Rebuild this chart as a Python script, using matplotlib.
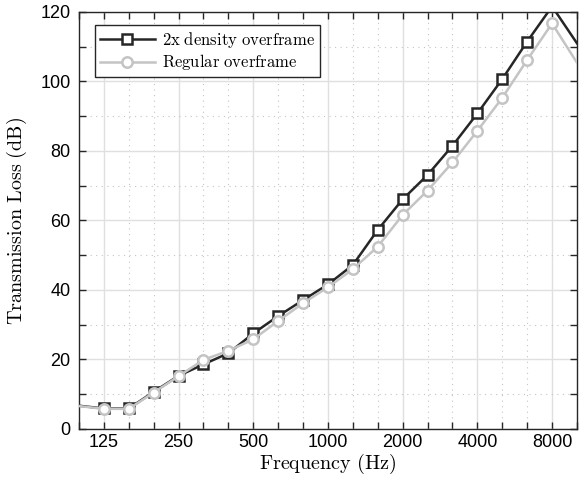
import numpy as np
import matplotlib.pyplot as plt
from matplotlib.ticker import FixedLocator, NullFormatter

# third-octave band centres (exact), 100 Hz .. 10 kHz
band_index = np.arange(-10, 11)
freqs = 1000.0 * 2.0 ** (band_index / 3.0)

tl_double = [6.7, 5.9, 5.9, 10.7, 15.3, 18.6, 21.8, 27.5, 32.5, 37.1, 41.6,
             47.2, 57.3, 66.1, 73.1, 81.5, 90.8, 100.7, 111.5, 121.6, 111.0]
tl_regular = [6.6, 5.8, 5.8, 10.5, 15.2, 19.9, 22.5, 25.8, 31.1, 36.2, 40.8,
              46.0, 52.5, 61.6, 68.6, 76.7, 85.8, 95.3, 106.2, 116.7, 105.4]

octave_labels = ['125', '250', '500', '1000', '2000', '4000', '8000']
octave_freqs = 1000.0 * 2.0 ** np.arange(-3, 4)
third_freqs = [f for f in freqs if not np.any(np.isclose(f, octave_freqs))]

plt.rcParams['mathtext.fontset'] = 'cm'

fig = plt.figure(figsize=(5.79, 4.87), dpi=100)
ax = fig.add_axes([0.1364, 0.1191, 0.8601, 0.8563])

# markers only inside the plot window (edge bands and clipped peak have none)
ax.plot(freqs, tl_double, color='#262626', lw=1.8, marker='s', ms=7,
        mfc='white', mec='#262626', mew=1.8, markevery=list(range(1, 19)),
        label=r'$\mathrm{2x\ density\ overframe}$', zorder=3)
ax.plot(freqs, tl_regular, color='#c4c4c4', lw=1.8, marker='o', ms=7.5,
        mfc='white', mec='#c4c4c4', mew=1.8, markevery=list(range(1, 20)),
        label=r'$\mathrm{Regular\ overframe}$', zorder=4)

ax.set_xscale('log')
ax.set_xlim(freqs[0], freqs[-1])
ax.set_ylim(0, 120)

ax.xaxis.set_major_locator(FixedLocator(octave_freqs))
ax.set_xticklabels(octave_labels)
ax.xaxis.set_minor_locator(FixedLocator(third_freqs))
ax.xaxis.set_minor_formatter(NullFormatter())
ax.set_yticks(np.arange(0, 121, 20))
ax.set_yticks(np.arange(10, 120, 20), minor=True)

ax.grid(which='major', color='#e0e0e0', lw=1.0, ls='-', zorder=0)
ax.grid(which='minor', color='#c4c4c4', lw=0.8, ls=(0, (1, 4)), zorder=0)
ax.set_axisbelow(True)

ax.tick_params(which='both', direction='in', top=True, right=True,
               length=5, width=1.0, labelsize=13, color='#262626')
ax.tick_params(axis='y', pad=6)
for lab in ax.get_xticklabels() + ax.get_yticklabels():
    lab.set_fontfamily('Liberation Sans')
for sp in ax.spines.values():
    sp.set_color('#262626')
    sp.set_linewidth(1.0)

ax.set_xlabel(r'$\mathrm{Frequency\ (Hz)}$', fontsize=14.5, labelpad=1)
ax.set_ylabel(r'$\mathrm{Transmission\ Loss\ (dB)}$', fontsize=14.5, labelpad=8)

leg = ax.legend(loc='upper left', fontsize=12, fancybox=False, framealpha=1,
                edgecolor='#262626', handlelength=3.3, borderpad=0.3,
                labelspacing=0.15, handletextpad=0.4, borderaxespad=0,
                bbox_to_anchor=(0.032, 0.969))
leg.get_frame().set_linewidth(1.0)

fig.savefig('out.png', dpi=100)
